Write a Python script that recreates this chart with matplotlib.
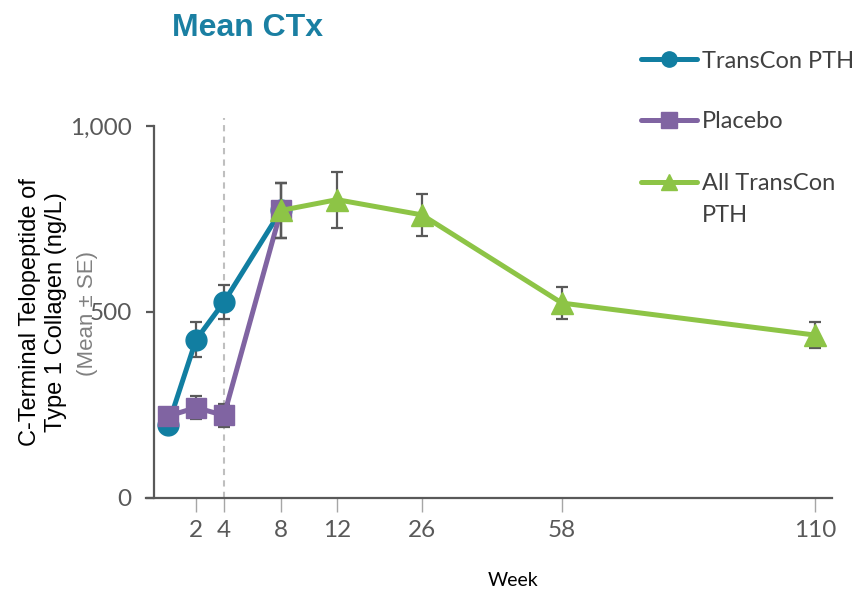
import numpy as np
import matplotlib
matplotlib.use("Agg")
import matplotlib.pyplot as plt
from matplotlib.lines import Line2D

# ---------------- data ----------------
weeks_tick = [2, 4, 8, 12, 26, 58, 110]
tick_labels = ["2", "4", "8", "12", "26", "58", "110"]

transcon_weeks = [0, 2, 4, 8]
transcon_mean = [195, 425, 527, 773]
transcon_se = [15, 47, 46, 75]

placebo_weeks = [0, 2, 4, 8]
placebo_mean = [220, 243, 222, 773]
placebo_se = [15, 30, 30, 75]

all_weeks = [8, 12, 26, 58, 110]
all_mean = [773, 802, 761, 524, 438]
all_se = [75, 75, 56, 42, 34]

series_names = ["TransCon PTH", "Placebo", "All TransCon\nPTH"]

# ---------------- style ----------------
BLUE = "#117EA1"
PURPLE = "#8064A2"
GREEN = "#8DC446"
TITLE = "#1A7FA2"
ERR = "#595959"
AXC = "#595959"

W, H = 854, 592
fig = plt.figure(figsize=(W / 100, H / 100), dpi=100)
L, R, B, T = 146, 832, 498, 126
ax = fig.add_axes([L / W, 1 - B / H, (R - L) / W, (B - T) / H])

# piecewise axis scale (week -> display position)
anc_w = np.array([-10, 0, 2, 4, 8, 12, 26, 58, 110, 200], dtype=float)
anc_p = np.array([28, 168, 196, 224, 281, 337, 422, 562, 815, 1253], dtype=float)


def fwd(x):
    return np.interp(x, anc_w, anc_p)


def inv(p):
    return np.interp(p, anc_p, anc_w)


ax.set_xscale("function", functions=(fwd, inv))
ax.set_xlim(-1.571, 113.5)
ax.set_ylim(0, 1000)

# dashed reference line at week 4
ax.axvline(4, ymin=0, ymax=1.0215, color="#BFBFBF", ls=(0, (3, 2.5)), lw=1.5,
           clip_on=False, zorder=1)

ekw = dict(ecolor=ERR, elinewidth=1.6, capsize=4.5, capthick=1.6)
ax.errorbar(transcon_weeks, transcon_mean, yerr=transcon_se, color=BLUE, lw=3.6,
            marker="o", ms=15, zorder=3, **ekw)
ax.errorbar(placebo_weeks, placebo_mean, yerr=placebo_se, color=PURPLE, lw=3.6,
            marker="s", ms=14, zorder=4, **ekw)
ax.errorbar(all_weeks, all_mean, yerr=all_se, color=GREEN, lw=3.6,
            marker="^", ms=16, zorder=5, **ekw)

# spines
for s in ["top", "right"]:
    ax.spines[s].set_visible(False)
ax.spines["left"].set_position(("data", -1.0))
ax.spines["left"].set_color(AXC)
ax.spines["bottom"].set_color(AXC)
ax.spines["left"].set_linewidth(1.6)
ax.spines["bottom"].set_linewidth(1.6)

ax.set_yticks([0, 500, 1000])
ax.set_yticklabels(["0", "500", "1,000"])
ax.set_xticks(weeks_tick)
ax.set_xticklabels(tick_labels)
ax.tick_params(axis="y", direction="out", length=6, width=1.6, color=AXC,
               labelsize=17.5, labelcolor=AXC, pad=10)
ax.tick_params(axis="x", direction="out", length=10, width=1.0, color="#A6A6A6",
               labelsize=17.5, labelcolor=AXC, pad=6)
for lab in ax.get_xticklabels() + ax.get_yticklabels():
    lab.set_family("Lato")

# texts
fig.text(172 / W, 1 - 36 / H, "Mean CTx", color=TITLE, fontsize=23,
         fontweight="bold", family="Liberation Sans", ha="left", va="baseline")
fig.text(43 / W, 1 - 312 / H, "C-Terminal Telopeptide of\nType 1 Collagen (ng/L)",
         rotation=90, ha="center", va="center", multialignment="center",
         fontsize=17, family="Liberation Sans", color="black", linespacing=1.2)
fig.text(88 / W, 1 - 314 / H, "(Mean \u00b1 SE)", rotation=90, ha="center",
         va="center", fontsize=16, family="Liberation Sans", color="#808080")
fig.text(513 / W, 1 - 580 / H, "Week", ha="center", va="center", fontsize=14,
         family="Lato", color="black")

# legend (drawn manually so the two-line label keeps its key on the first line)
leg_colors = [BLUE, PURPLE, GREEN]
leg_markers = ["o", "s", "^"]
leg_ms = [11, 11, 12]
leg_y = [59, 120, 182]
for name, c, m, ms, yy in zip(series_names, leg_colors, leg_markers, leg_ms, leg_y):
    yf = 1 - yy / H
    fig.add_artist(Line2D([641 / W, 697 / W], [yf, yf], transform=fig.transFigure,
                          color=c, lw=3.6, solid_capstyle="round"))
    fig.add_artist(Line2D([669 / W], [yf], transform=fig.transFigure, color=c,
                          marker=m, ms=ms, lw=0))
    fig.text(702 / W, 1 - (yy + 8.5) / H, name.split("\n")[0], ha="left",
             va="baseline", fontsize=17, family="Lato", color="#404040")
    if "\n" in name:
        fig.text(702 / W, 1 - (yy + 8.5 + 32) / H, name.split("\n")[1], ha="left",
                 va="baseline", fontsize=17, family="Lato", color="#404040")

fig.savefig("out.png", dpi=100)
